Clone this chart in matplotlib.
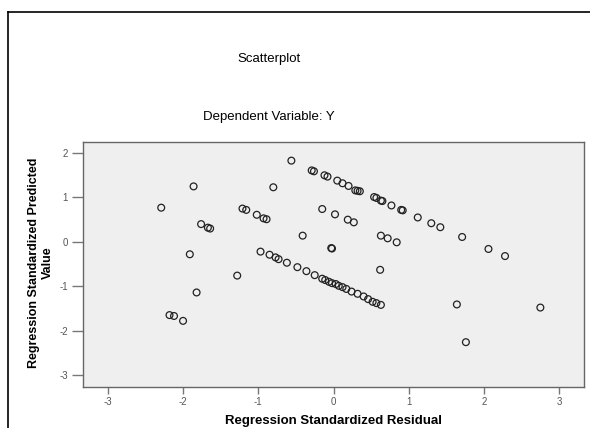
import numpy as np
import matplotlib
matplotlib.use("Agg")
import matplotlib.pyplot as plt
from matplotlib.lines import Line2D

# ---------------------------------
# Data read off the SPSS scatterplot
# ---------------------------------
residual = [
    -2.29, -1.86, -1.76, -1.67, -1.64, -1.91, -1.82, -2.18, -2.12, -2.00,
    -1.28, -1.21, -1.16, -1.02, -0.93, -0.89, -0.80, -0.56,
    # upper band
    -0.29, -0.26, -0.12, -0.08, 0.05, 0.12, 0.20, 0.29, 0.32, 0.35,
    0.54, 0.57, 0.63, 0.65, 0.77, 0.90, 0.92, 1.12, 1.30, 1.42, 1.71, 2.06, 2.28,
    # middle band
    -0.15, 0.02, 0.19, 0.27, -0.41, -0.03, -0.02, 0.63, 0.72, 0.84, 0.62,
    # lower band
    -0.97, -0.85, -0.77, -0.73, -0.62, -0.48, -0.36, -0.25, -0.15, -0.11,
    -0.06, -0.02, 0.03, 0.07, 0.12, 0.17, 0.24, 0.32, 0.40, 0.46, 0.52, 0.57, 0.63,
    # right side
    1.64, 2.75, 1.76,
]
predicted = [
    0.77, 1.25, 0.40, 0.32, 0.30, -0.28, -1.14, -1.65, -1.67, -1.78,
    -0.76, 0.75, 0.72, 0.61, 0.53, 0.51, 1.23, 1.83,
    1.61, 1.59, 1.50, 1.47, 1.38, 1.32, 1.26, 1.16, 1.15, 1.14,
    1.01, 0.99, 0.93, 0.92, 0.82, 0.72, 0.71, 0.55, 0.42, 0.33, 0.11, -0.16, -0.32,
    0.74, 0.62, 0.50, 0.44, 0.14, -0.14, -0.15, 0.14, 0.08, -0.01, -0.63,
    -0.22, -0.29, -0.35, -0.39, -0.47, -0.57, -0.66, -0.75, -0.83, -0.86,
    -0.90, -0.93, -0.95, -0.99, -1.02, -1.06, -1.12, -1.17, -1.23, -1.29, -1.35, -1.38, -1.42,
    -1.41, -1.48, -2.26,
]
xticks = [-3, -2, -1, 0, 1, 2, 3]
yticks = [-3, -2, -1, 0, 1, 2]

plt.rcParams['font.family'] = ['Liberation Sans', 'DejaVu Sans']

fig = plt.figure(figsize=(5.9, 4.28), dpi=100)
fig.patch.set_facecolor('white')

# outer frame (only top and left edges are visible in the crop)
fig.add_artist(Line2D([8 / 590, 1.0], [1 - 12 / 428, 1 - 12 / 428], color='black', lw=1.2))
fig.add_artist(Line2D([8 / 590, 8 / 590], [0.0, 1 - 12 / 428], color='black', lw=1.2))

ax = fig.add_axes([83 / 590, 1 - 387 / 428, 501 / 590, 245 / 428])
ax.set_facecolor('#efefef')

ax.scatter(residual, predicted, s=24, facecolors='none', edgecolors='#222222', linewidths=0.9)

ax.set_xlim(-3.33, 3.33)
ax.set_ylim(-3.27, 2.25)
ax.set_xticks(xticks)
ax.set_yticks(yticks)
ax.set_xticklabels([str(t) for t in xticks])
ax.set_yticklabels([str(t) for t in yticks])

for s in ax.spines.values():
    s.set_color('#666666')
    s.set_linewidth(1.0)
ax.tick_params(axis='x', direction='out', length=5, width=1, color='#777777',
               labelsize=7, labelcolor='#555555', pad=2)
ax.tick_params(axis='y', direction='out', length=8, width=1, color='#777777',
               labelsize=7, labelcolor='#555555', pad=3)

# titles
fig.text(269 / 590, 1 - 59 / 428, 'Scatterplot', ha='center', va='center', fontsize=9.5)
fig.text(269 / 590, 1 - 117 / 428, 'Dependent Variable: Y', ha='center', va='center', fontsize=9.5)

ax.set_xlabel('Regression Standardized Residual', fontsize=9.5, fontweight='bold', labelpad=6)
fig.text(41 / 590, 1 - 263 / 428, 'Regression Standardized Predicted\nValue', rotation=90,
         ha='center', va='center', fontsize=9, fontweight='bold', linespacing=1.25)

fig.savefig('out.png', dpi=100)
